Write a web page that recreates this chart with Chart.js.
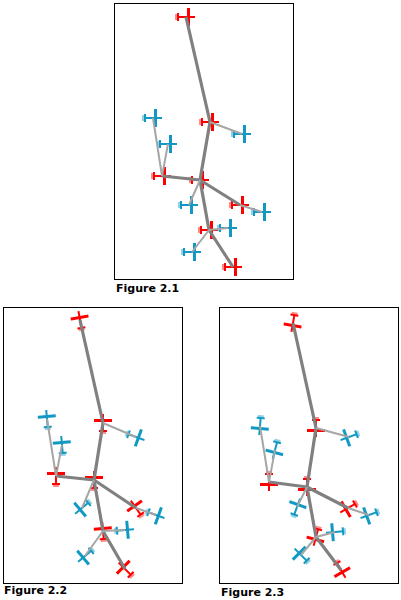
<!DOCTYPE html>
<html>
<head>
<meta charset="utf-8">
<script src="https://cdn.jsdelivr.net/npm/chart.js@4"></script>
<style>
  body { margin: 0; background: #fff; width: 401px; height: 600px; position: relative; overflow: hidden; }
  .panel { position: absolute; border: 1px solid #000; box-sizing: border-box; background: #fff; }
  .label { position: absolute; font: bold 11px "DejaVu Sans", Verdana, sans-serif; color: #000; }
</style>
</head>
<body>
<div class="panel" style="left:114px;top:3px;width:180px;height:277px"><canvas id="fig1"></canvas></div>
<div class="label" style="left:116px;top:282px">Figure 2.1</div>
<div class="panel" style="left:3px;top:307px;width:180px;height:277px"><canvas id="fig2"></canvas></div>
<div class="label" style="left:4px;top:584px">Figure 2.2</div>
<div class="panel" style="left:219px;top:307px;width:180px;height:277px"><canvas id="fig3"></canvas></div>
<div class="label" style="left:221px;top:586px">Figure 2.3</div>
<script>
// Node order: red A..G then blue b1..b7
const redNames = ['A', 'B', 'C', 'D', 'E', 'F', 'G'];
const blueNames = ['b1', 'b2', 'b3', 'b4', 'b5', 'b6', 'b7'];

// Figure 2.1 positions (x, y) and headings (deg, 0 = nose right)
const fig1Red = [[186,17],[210,122],[162,176],[200,180],[240,205],[209,230],[233,267]];
const fig1Blue = [[153,118],[168,144],[242,134],[189,205],[262,212],[228,228],[192,252]];
const fig1RedRot = [0,0,0,0,0,0,0];
const fig1BlueRot = [0,0,0,0,0,0,0];

// Figure 2.2
const fig2Red = [[80,320],[103,423],[56,476],[94,480],[136,508],[103,531],[125,569]];
const fig2Blue = [[47,419],[62,445],[136,437],[82,508],[156,515],[125,530],[85,556]];
const fig2RedRot = [-100,-90,-90,-90,-125,-95,-135];
const fig2BlueRot = [-95,-95,20,140,20,-5,140];

// Figure 2.3
const fig3Red = [[293,323],[316,428],[269,482],[307,487],[348,508],[316,537],[341,570]];
const fig3Blue = [[260,426],[275,450],[349,437],[297,507],[369,515],[335,532],[301,555]];
const fig3RedRot = [100,90,90,90,150,105,60];
const fig3BlueRot = [95,105,160,-70,160,175,-135];

// Links: red-red and red-blue
const mainLinks = [[0,1],[1,3],[2,3],[3,4],[3,5],[5,6]];
const subLinks = [[1,2],[2,0],[2,1],[3,3],[4,4],[5,5],[5,6]];

function planeIcon(color) {
  const c = document.createElement('canvas');
  c.width = 22; c.height = 20;
  const g = c.getContext('2d');
  g.fillStyle = color;
  g.fillRect(2, 9, 17, 2);      // fuselage
  g.fillRect(12, 1, 3, 18);     // wings
  g.fillRect(2, 6, 2, 8);       // tail
  g.fillRect(18, 9, 2, 2);      // nose
  g.globalAlpha = 0.45;
  g.fillRect(0, 7, 2, 6);
  return c;
}
const redPlane = planeIcon('#ff0000');
const bluePlane = planeIcon('#1199c4');

function pt(p) { return { x: p[0], y: p[1] }; }

function buildChart(id, red, blue, redRot, blueRot, xRange, yRange) {
  const datasets = [];
  subLinks.forEach(([r, b]) => datasets.push({
    type: 'line', data: [pt(red[r]), pt(blue[b])],
    borderColor: '#a6a6a6', borderWidth: 2, pointRadius: 0
  }));
  mainLinks.forEach(([a, b]) => datasets.push({
    type: 'line', data: [pt(red[a]), pt(red[b])],
    borderColor: '#808080', borderWidth: 3.2, pointRadius: 0
  }));
  datasets.push({
    type: 'scatter', data: blue.map(pt), pointStyle: bluePlane,
    rotation: blueRot, pointRadius: 10
  });
  datasets.push({
    type: 'scatter', data: red.map(pt), pointStyle: redPlane,
    rotation: redRot, pointRadius: 10
  });
  new Chart(document.getElementById(id), {
    type: 'scatter',
    data: { datasets },
    options: {
      responsive: true, maintainAspectRatio: false, animation: false,
      events: [],
      layout: { padding: 0, autoPadding: false },
      plugins: { legend: { display: false }, tooltip: { enabled: false } },
      scales: {
        x: { type: 'linear', display: false, min: xRange[0], max: xRange[1] },
        y: { type: 'linear', display: false, reverse: true, min: yRange[0], max: yRange[1] }
      }
    }
  });
}

buildChart('fig1', fig1Red, fig1Blue, fig1RedRot, fig1BlueRot, [115, 293], [4, 279]);
buildChart('fig2', fig2Red, fig2Blue, fig2RedRot, fig2BlueRot, [4, 182], [308, 583]);
buildChart('fig3', fig3Red, fig3Blue, fig3RedRot, fig3BlueRot, [220, 398], [308, 583]);
</script>
</body>
</html>
